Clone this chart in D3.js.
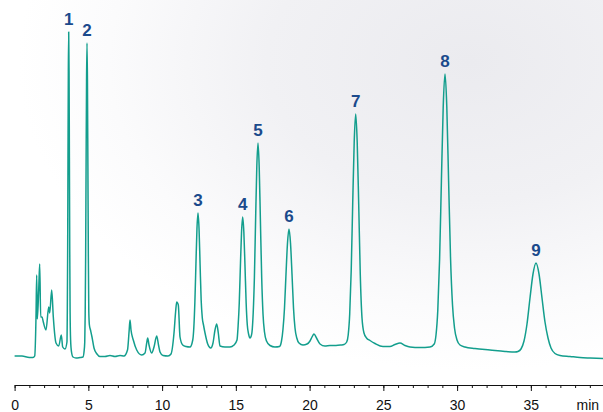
<!DOCTYPE html>
<html>
<head>
<meta charset="utf-8">
<script src="https://cdn.jsdelivr.net/npm/d3@7"></script>
<style>
  html, body { margin: 0; padding: 0; background: #ffffff; }
  svg { display: block; }
</style>
</head>
<body>
<div id="chart"></div>
<script>
// ---- Data ----
// Retention time (min)
const times = [
  0.00, 0.50, 1.00, 1.247, 1.363, 1.451, 1.498, 1.539, 1.634, 1.702, 1.769, 1.858, 1.946, 2.129, 2.312, 2.380, 2.515, 2.624, 2.807, 2.990, 3.166, 3.261, 3.417,
  3.549, 3.573, 3.597, 3.620, 3.644, 3.668, 3.692, 3.715, 3.739, 3.763, 3.797, 3.858, 3.959, 4.163, 4.434, 4.637, 4.705,
  4.756, 4.786, 4.817, 4.847, 4.878, 4.909, 4.939, 4.969, 5.000, 5.031, 5.071, 5.146, 5.247, 5.383, 5.586, 5.790,
  6.129, 6.468, 6.807, 7.146, 7.417, 7.654, 7.769, 7.824, 7.892, 8.047, 8.278, 8.617,
  8.841, 8.956, 9.024, 9.112, 9.295, 9.451, 9.634, 9.756, 9.858, 10.061, 10.400, 10.603,
  10.807, 10.915, 10.990, 11.098, 11.214, 11.397, 11.620, 11.892,
  12.078, 12.149, 12.220, 12.292, 12.363, 12.434, 12.505, 12.576, 12.648, 12.726, 12.807, 12.910, 13.092, 13.295,
  13.451, 13.586, 13.702, 13.810, 13.925, 14.264, 14.603, 14.875,
  15.078, 15.153, 15.231, 15.308, 15.386, 15.464, 15.542, 15.620, 15.698, 15.776, 15.864, 15.959, 16.041,
  16.095, 16.176, 16.258, 16.339, 16.420, 16.502, 16.583, 16.664, 16.753, 16.841, 16.942, 17.078, 17.315, 17.654, 17.959,
  18.095, 18.197, 18.298, 18.400, 18.502, 18.603, 18.705, 18.807, 18.909, 19.010, 19.132, 19.281, 19.553,
  19.824, 20.027, 20.163, 20.298, 20.468, 20.705, 21.044, 21.383, 21.790, 22.129, 22.332,
  22.515, 22.617, 22.719, 22.820, 22.922, 23.024, 23.125, 23.227, 23.329, 23.437, 23.553, 23.688, 23.858, 24.095, 24.434, 24.976,
  25.451, 25.790, 26.129, 26.468, 26.807, 27.485, 28.163,
  28.448, 28.570, 28.692, 28.814, 28.936, 29.058, 29.180, 29.302, 29.424, 29.553, 29.689, 29.824, 29.993, 30.197, 30.536,
  31.214, 32.231, 33.247, 33.925,
  34.129, 34.332, 34.536, 34.739, 34.942, 35.146, 35.349, 35.553, 35.756, 35.959, 36.163, 36.366, 36.637, 36.976,
  37.654, 38.332, 39.010, 39.892
];
// Detector signal (mAU)
const signal = [
  1, 1, -0.5, -0.5, 1, 40, 82, 38, 67, 93, 40, 40, 35, 27, 50, 44, 67, 40, 14, 11, 22, 10, 8,
  15, 45, 105, 199, 286, 325, 286, 199, 105, 45, 17, 5, 0, -1, -0.5, 0, 5,
  15, 43, 101, 192, 276, 314, 276, 192, 101, 45, 32, 27, 20, 9, 3, 0.5,
  0.5, 1.5, 0.5, 1.5, 1, 7, 27, 37, 27, 17, 7, 2,
  4, 14, 19, 12, 4, 10, 21, 12, 5, 1.5, 1, 3,
  24, 45, 55, 52, 20, 12, 10.5, 10,
  17, 29, 54, 92, 128, 144, 128, 92, 57, 39, 32, 24, 13, 9,
  14, 27, 33, 24, 11, 10, 10, 12,
  17, 31, 54, 91, 125, 140, 125, 91, 54, 32, 23, 19, 21,
  25, 44, 80, 137, 190, 214, 190, 137, 79, 43, 25, 16, 11.5, 10, 10.5,
  16, 28, 49, 83, 114, 128, 114, 83, 49, 29, 19, 14, 12,
  13, 16, 20, 23, 19, 13, 11, 11.5, 11.5, 12, 12.5,
  15, 22, 43, 86, 153, 215, 243, 215, 153, 82, 39, 24, 19, 16.5, 13.5, 10.5,
  10.5, 12.5, 14, 11.5, 10, 9.5, 10,
  13, 22, 47, 98, 176, 250, 283, 250, 176, 100, 52, 29, 17, 12, 10,
  8.5, 7, 5.5, 5,
  5.5, 8, 16, 33, 59, 83, 94, 83, 59, 35, 19, 9, 3.5, 1.5,
  0.5, -0.5, -1, -1.5
];
// Peak labels
const peakLabels = ["1", "2", "3", "4", "5", "6", "7", "8", "9"];
const peakTimes  = [3.668, 4.909, 12.434, 15.464, 16.502, 18.603, 23.125, 29.180, 35.349];
const peakHeights = [325, 314, 144, 140, 214, 128, 243, 283, 94];
// Axis ticks
const majorTicks = [0, 5, 10, 15, 20, 25, 30, 35];
const minorTicks = d3.range(0, 41, 1);
const axisUnit = "min";

// ---- Layout ----
const W = 603, H = 412;
const svg = d3.select("#chart").append("svg").attr("width", W).attr("height", H);

// background
const defs = svg.append("defs");
const bg = defs.append("radialGradient").attr("id", "bg")
  .attr("cx", "0.78").attr("cy", "0.15").attr("r", "0.75");
bg.append("stop").attr("offset", "0").attr("stop-color", "#ebebef");
bg.append("stop").attr("offset", "0.45").attr("stop-color", "#f1f1f4");
bg.append("stop").attr("offset", "0.8").attr("stop-color", "#fbfbfc");
bg.append("stop").attr("offset", "1").attr("stop-color", "#ffffff");
svg.append("rect").attr("width", W).attr("height", H).attr("fill", "url(#bg)");

const x = d3.scaleLinear().domain([0, 40]).range([14.6, 604.6]);
const y = d3.scaleLinear().domain([0, 330]).range([357, 27]);

const pts = times.map((t, i) => [t, signal[i]]);
const line = d3.line().x(d => x(d[0])).y(d => y(d[1])).curve(d3.curveMonotoneX);

svg.append("path").datum(pts)
  .attr("d", line)
  .attr("fill", "none")
  .attr("stroke", "#139e8d")
  .attr("stroke-width", 1.5)
  .attr("stroke-linejoin", "round");

// peak labels
svg.append("g").selectAll("text").data(peakLabels).join("text")
  .attr("x", (d, i) => x(peakTimes[i]))
  .attr("y", (d, i) => y(peakHeights[i]) - 7)
  .attr("text-anchor", "middle")
  .attr("font-family", "Liberation Sans, Arial, sans-serif")
  .attr("font-weight", "bold")
  .attr("font-size", 17)
  .attr("fill", "#1b4a8c")
  .text(d => d);

// axis
const axisY = 385;
const minor = svg.append("g").attr("transform", `translate(0,${axisY})`)
  .call(d3.axisBottom(x).tickValues(minorTicks).tickSize(3).tickSizeOuter(0).tickFormat(""));
minor.select(".domain").remove();
minor.selectAll("line").attr("stroke", "#111");

const major = svg.append("g").attr("transform", `translate(0,${axisY})`)
  .call(d3.axisBottom(x).tickValues(majorTicks).tickSize(6).tickSizeOuter(0).tickFormat(d3.format("d")));
major.select(".domain").attr("stroke", "#111").attr("stroke-width", 1.2);
major.selectAll("line").attr("stroke", "#111");
major.selectAll("text")
  .attr("y", 25).attr("dy", 0)
  .attr("font-family", "Liberation Sans, Arial, sans-serif")
  .attr("font-size", 14)
  .attr("fill", "#111");

svg.append("text")
  .attr("x", x(38.1)).attr("y", axisY + 25)
  .attr("font-family", "Liberation Sans, Arial, sans-serif")
  .attr("font-size", 14)
  .attr("fill", "#111")
  .text(axisUnit);
</script>
</body>
</html>
